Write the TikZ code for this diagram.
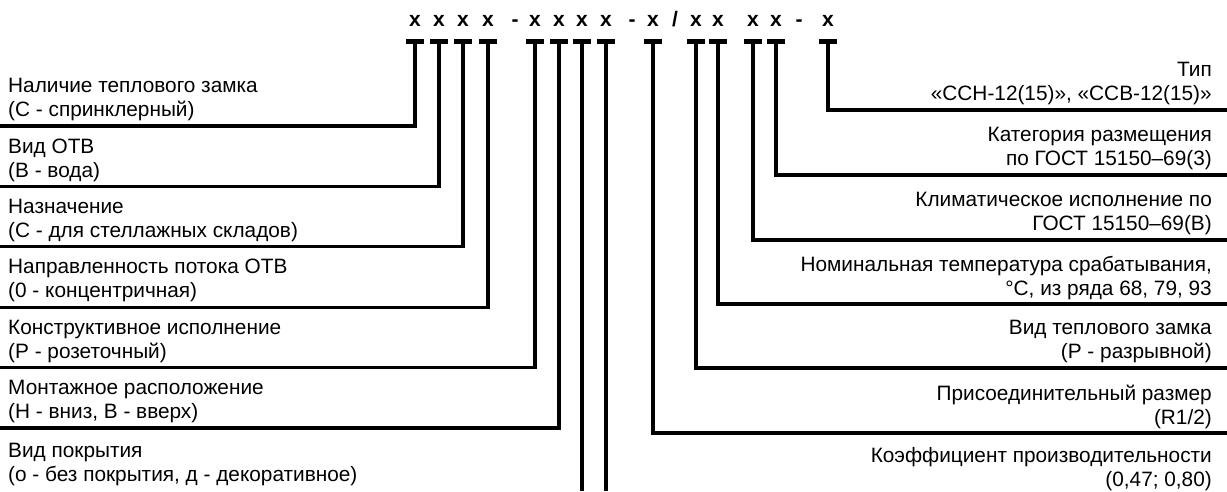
\documentclass[tikz,border=0pt]{standalone}
\usepackage{fontspec}
\setmainfont{Liberation Sans}
\usetikzlibrary{positioning}
\tikzset{
  codechar/.style={font=\fontsize{21}{24}\selectfont\bfseries, inner sep=0pt, anchor=base},
  tbar/.style={line width=5pt},
  lead/.style={line width=3.3pt},
  leftlbl/.style={font=\fontsize{20.8}{24}\selectfont, inner sep=0pt, align=left, anchor=north west},
  rightlbl/.style={font=\fontsize{20.8}{24}\selectfont, inner sep=0pt, align=right, anchor=north east},
}

\begin{document}
\begin{tikzpicture}[x=1pt, y=-1pt]
  \useasboundingbox (0,0) rectangle (1227,491);
  % designation line
  \foreach \n/\xx/\ch in {1/415/x, 2/439/x, 3/463/x, 4/488/x, 5/515/-, 6/535/x, 7/559/x, 8/582/x,
      9/606/x, 10/632/-, 11/653/x, 12/675/{/}, 13/696/x, 14/718/x, 15/753/x, 16/776/x, 17/799/-, 18/828/x}
    \node[codechar] (c\n) at (\xx,26) {\ch};
  % T marks under the letters
  \foreach \n/\xx in {1/415, 2/439, 3/463, 4/488, 5/535, 6/559, 7/582, 8/606,
      9/653, 10/696, 11/718, 12/753, 13/776, 14/828} {
    \coordinate (t\n) at (\xx,41);
    \draw[tbar] ([xshift=-9pt]t\n) -- ([xshift=9pt]t\n);
  }

  % left side
  \node[leftlbl] (nal) at (8,78) {Наличие теплового замка\\(С - спринклерный)};
  \node[leftlbl] (vid) at (8,138.4) {Вид ОТВ\\(В - вода)};
  \node[leftlbl] (naz) at (8,198.8) {Назначение\\(С - для стеллажных складов)};
  \node[leftlbl] (napr) at (8,259.2) {Направленность потока ОТВ\\(0 - концентричная)};
  \node[leftlbl] (konstr) at (8,319.6) {Конструктивное исполнение\\(Р - розеточный)};
  \node[leftlbl] (mont) at (8,380) {Монтажное расположение\\(Н - вниз, В - вверх)};
  \node[leftlbl] (pokr) at (8,443) {Вид покрытия\\(о - без покрытия, д - декоративное)};

  \coordinate (e1) at (0,126);
  \coordinate (e2) at (0,186.4);
  \coordinate (e3) at (0,246.8);
  \coordinate (e4) at (0,307.2);
  \coordinate (e5) at (0,367.6);
  \coordinate (e6) at (0,428);
  \coordinate (b7) at (582,491);
  \coordinate (b8) at (606,491);
  \foreach \n in {1,...,6}
    \draw[lead] (t\n) |- (e\n);
  \draw[lead] (t7) -- (b7);
  \draw[lead] (t8) -- (b8);

  % right side
  \node[rightlbl] (tip) at (1212,62) {Тип\\«ССН-12(15)», «ССВ-12(15)»};
  \node[rightlbl] (kat) at (1212,127) {Категория размещения\\по ГОСТ 15150--69(3)};
  \node[rightlbl] (klim) at (1212,192) {Климатическое исполнение по\\ГОСТ 15150--69(В)};
  \node[rightlbl] (nom) at (1212,256) {Номинальная температура срабатывания,\\°С, из ряда 68, 79, 93};
  \node[rightlbl] (zam) at (1212,320) {Вид теплового замка\\(Р - разрывной)};
  \node[rightlbl] (pris) at (1212,385) {Присоединительный размер\\(R1/2)};
  \node[rightlbl] (koef) at (1212,447) {Коэффициент производительности\\(0,47; 0,80)};

  \coordinate (f14) at (1227,110);
  \coordinate (f13) at (1227,175);
  \coordinate (f12) at (1227,240);
  \coordinate (f11) at (1227,304);
  \coordinate (f10) at (1227,368);
  \coordinate (f9) at (1227,433);
  \foreach \n in {9,...,14}
    \draw[lead] (t\n) |- (f\n);
\end{tikzpicture}
\end{document}
